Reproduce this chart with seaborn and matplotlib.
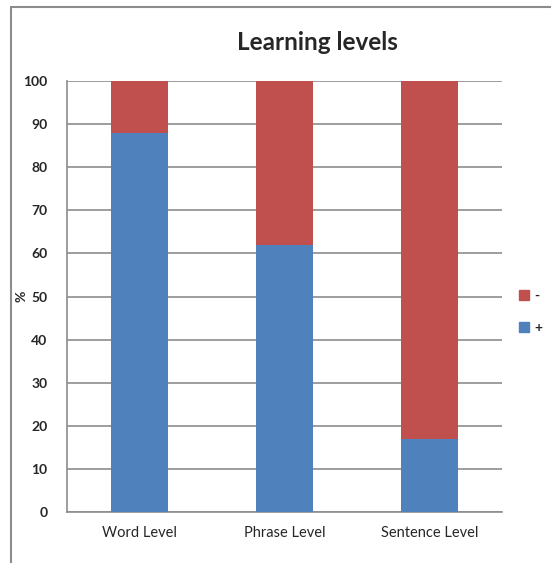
import matplotlib
matplotlib.use("Agg")
import matplotlib.pyplot as plt
from matplotlib.lines import Line2D
import seaborn as sns
import pandas as pd

levels = ["Word Level", "Phrase Level", "Sentence Level"]
plus_pct = [88, 62, 17]
minus_pct = [12, 38, 83]
yticks = [0, 10, 20, 30, 40, 50, 60, 70, 80, 90, 100]

blue = "#4F81BD"
red = "#C0504D"

sns.set_style("white")
plt.rcParams["font.family"] = ["Lato", "DejaVu Sans"]

df = pd.DataFrame({"level": levels, "plus": plus_pct, "minus": minus_pct})
df["total"] = df["plus"] + df["minus"]

fig = plt.figure(figsize=(5.51, 5.63), dpi=100)
ax = fig.add_axes([67 / 551, 1 - 512 / 563, (502 - 67) / 551, (512 - 81) / 563])

# stacked bars: full height in red, then the "+" part in blue on top of it
sns.barplot(data=df, x="level", y="total", color=red, width=0.39, saturation=1,
            linewidth=0, ax=ax, zorder=2)
sns.barplot(data=df, x="level", y="plus", color=blue, width=0.39, saturation=1,
            linewidth=0, ax=ax, zorder=3)

ax.set_ylim(0, 100)
ax.set_xlim(-0.5, 2.5)
ax.set_yticks(yticks)
ax.set_yticklabels([str(t) for t in yticks], fontsize=10, fontweight="bold")
ax.tick_params(axis="x", labelsize=10.5, pad=10, length=0)
ax.tick_params(axis="y", pad=14, length=0)
ax.set_xlabel("")
ax.set_ylabel("")
ax.yaxis.grid(True, color="#8c8c8c", linewidth=1.2, zorder=0)
ax.set_axisbelow(True)
for side in ["top", "right"]:
    ax.spines[side].set_visible(False)
for side in ["left", "bottom"]:
    ax.spines[side].set_color("#8c8c8c")
    ax.spines[side].set_linewidth(1.2)

fig.text(317 / 551, 1 - 42 / 563, "Learning levels", ha="center", va="center",
         fontsize=17.5, fontweight="bold")
fig.text(22 / 551, 1 - 296 / 563, "%", ha="center", va="center", rotation=90,
         fontsize=10, fontweight="bold")

handles = [Line2D([], [], marker="s", linestyle="", markersize=7, color=red),
           Line2D([], [], marker="s", linestyle="", markersize=7, color=blue)]
fig.legend(handles, ["-", "+"], loc="center left", bbox_to_anchor=(519 / 551, 1 - 312 / 563),
           frameon=False, handlelength=0.7, handletextpad=0.4, borderpad=0, borderaxespad=0,
           labelspacing=1.4, prop={"weight": "bold", "size": 10})

# outer chart frame
fig.add_artist(Line2D([11 / 551, 11 / 551], [0, 1 - 7 / 563], transform=fig.transFigure,
                      color="#8c8c8c", linewidth=1.5))
fig.add_artist(Line2D([11 / 551, 1], [1 - 7 / 563, 1 - 7 / 563], transform=fig.transFigure,
                      color="#8c8c8c", linewidth=1.5))

fig.savefig("out.png", dpi=100)
